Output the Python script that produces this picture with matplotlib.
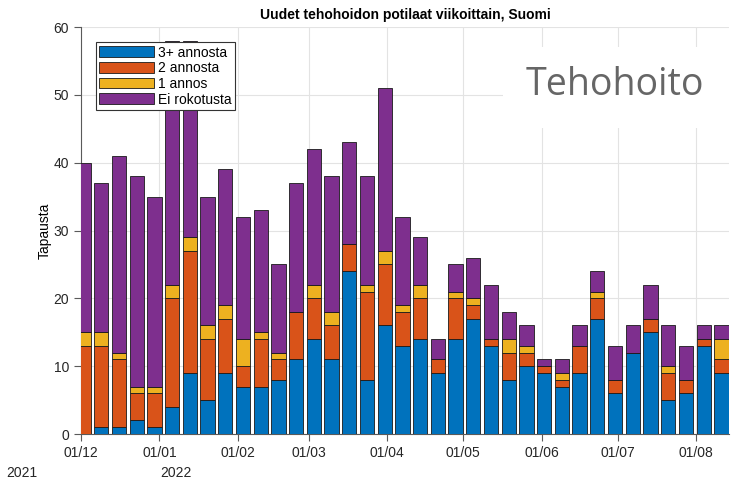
import matplotlib
matplotlib.use("Agg")
import matplotlib.pyplot as plt
import matplotlib.dates as mdates
from matplotlib.patches import Rectangle
import numpy as np
import pandas as pd

# viikot (torstai-keskitetty), 37 viikkoa
weeks = pd.date_range("2021-12-02", periods=37, freq="7D")

dose3 = [0, 1, 1, 2, 1, 4, 9, 5, 9, 7, 7, 8, 11, 14, 11, 24, 8, 16, 13, 14,
         9, 14, 17, 13, 8, 10, 9, 7, 9, 17, 6, 12, 15, 5, 6, 13, 9]
dose2 = [13, 12, 10, 4, 5, 16, 18, 9, 8, 3, 7, 3, 7, 6, 5, 4, 13, 9, 5, 6,
         2, 6, 2, 1, 4, 2, 1, 1, 4, 3, 2, 0, 2, 4, 2, 1, 2]
dose1 = [2, 2, 1, 1, 1, 2, 2, 2, 2, 4, 1, 1, 0, 2, 2, 0, 1, 2, 1, 2,
         0, 1, 1, 0, 2, 1, 0, 1, 0, 1, 0, 0, 0, 1, 0, 0, 3]
unvacc = [25, 22, 29, 31, 28, 36, 29, 19, 20, 18, 18, 13, 19, 20, 20, 15, 16, 24, 13, 7,
          3, 4, 6, 8, 4, 3, 1, 2, 3, 3, 5, 4, 5, 6, 5, 2, 2]

labels = ["3+ annosta", "2 annosta", "1 annos", "Ei rokotusta"]
colors = ["#0072BD", "#D95319", "#EDB120", "#7E2F8E"]

plt.rcParams["font.family"] = ["Liberation Sans", "DejaVu Sans"]

fig = plt.figure(figsize=(7.33, 4.8), dpi=100)
ax = fig.add_axes([0.1105, 0.0958, 0.8840, 0.8479])

x = mdates.date2num(weeks.to_pydatetime())
bottom = np.zeros(len(x))
for vals, lab, col in zip([dose3, dose2, dose1, unvacc], labels, colors):
    vals = np.array(vals, dtype=float)
    ax.bar(x, vals, width=5.65, bottom=bottom, color=col, edgecolor="#1a1a1a",
           linewidth=0.6, label=lab, zorder=3)
    bottom += vals

ax.set_xlim(mdates.date2num(pd.Timestamp("2021-12-01")),
            mdates.date2num(pd.Timestamp("2022-08-14")))
ax.set_ylim(0, 60)
ax.set_yticks(range(0, 61, 10))
ax.xaxis.set_major_locator(mdates.MonthLocator())
ax.xaxis.set_major_formatter(mdates.DateFormatter("%d/%m"))

ax.grid(True, color="#e3e3e3", linewidth=0.8, zorder=0)
ax.set_axisbelow(True)
for s in ["top", "right"]:
    ax.spines[s].set_visible(False)
for s in ["left", "bottom"]:
    ax.spines[s].set_color("#5a5a5a")
    ax.spines[s].set_linewidth(0.8)
ax.tick_params(axis="both", direction="out", length=5, width=0.8,
               color="#5a5a5a", labelsize=10, labelcolor="#262626")

ax.set_title("Uudet tehohoidon potilaat viikoittain, Suomi",
             fontsize=10, fontweight="bold", pad=6)
ax.set_ylabel("Tapausta", fontsize=10, labelpad=1)

leg = ax.legend(loc="upper left", bbox_to_anchor=(0.023, 0.963), borderaxespad=0,
                fontsize=10, fancybox=False, framealpha=1, edgecolor="#333333",
                handlelength=3.9, handleheight=0.8, labelspacing=0.12,
                handletextpad=0.3, borderpad=0.25)
leg.get_frame().set_linewidth(0.8)

fig.text(22 / 733, 1 - 473 / 480, "2021", ha="center", va="center",
         fontsize=10, color="#262626")
fig.text(176 / 733, 1 - 473 / 480, "2022", ha="center", va="center",
         fontsize=10, color="#262626")

# valkoinen laatikko ja otsikkokuva
fig.patches.append(Rectangle((503 / 733, 1 - 128 / 480), 230 / 733, 81 / 480,
                             transform=fig.transFigure, facecolor="white",
                             edgecolor="none", zorder=5))
fig.text(615 / 733, 1 - 85 / 480, "Tehohoito", ha="center", va="center",
         fontsize=27, color="#666666", family="Open Sans", zorder=6)

fig.savefig("out.png", dpi=100)
